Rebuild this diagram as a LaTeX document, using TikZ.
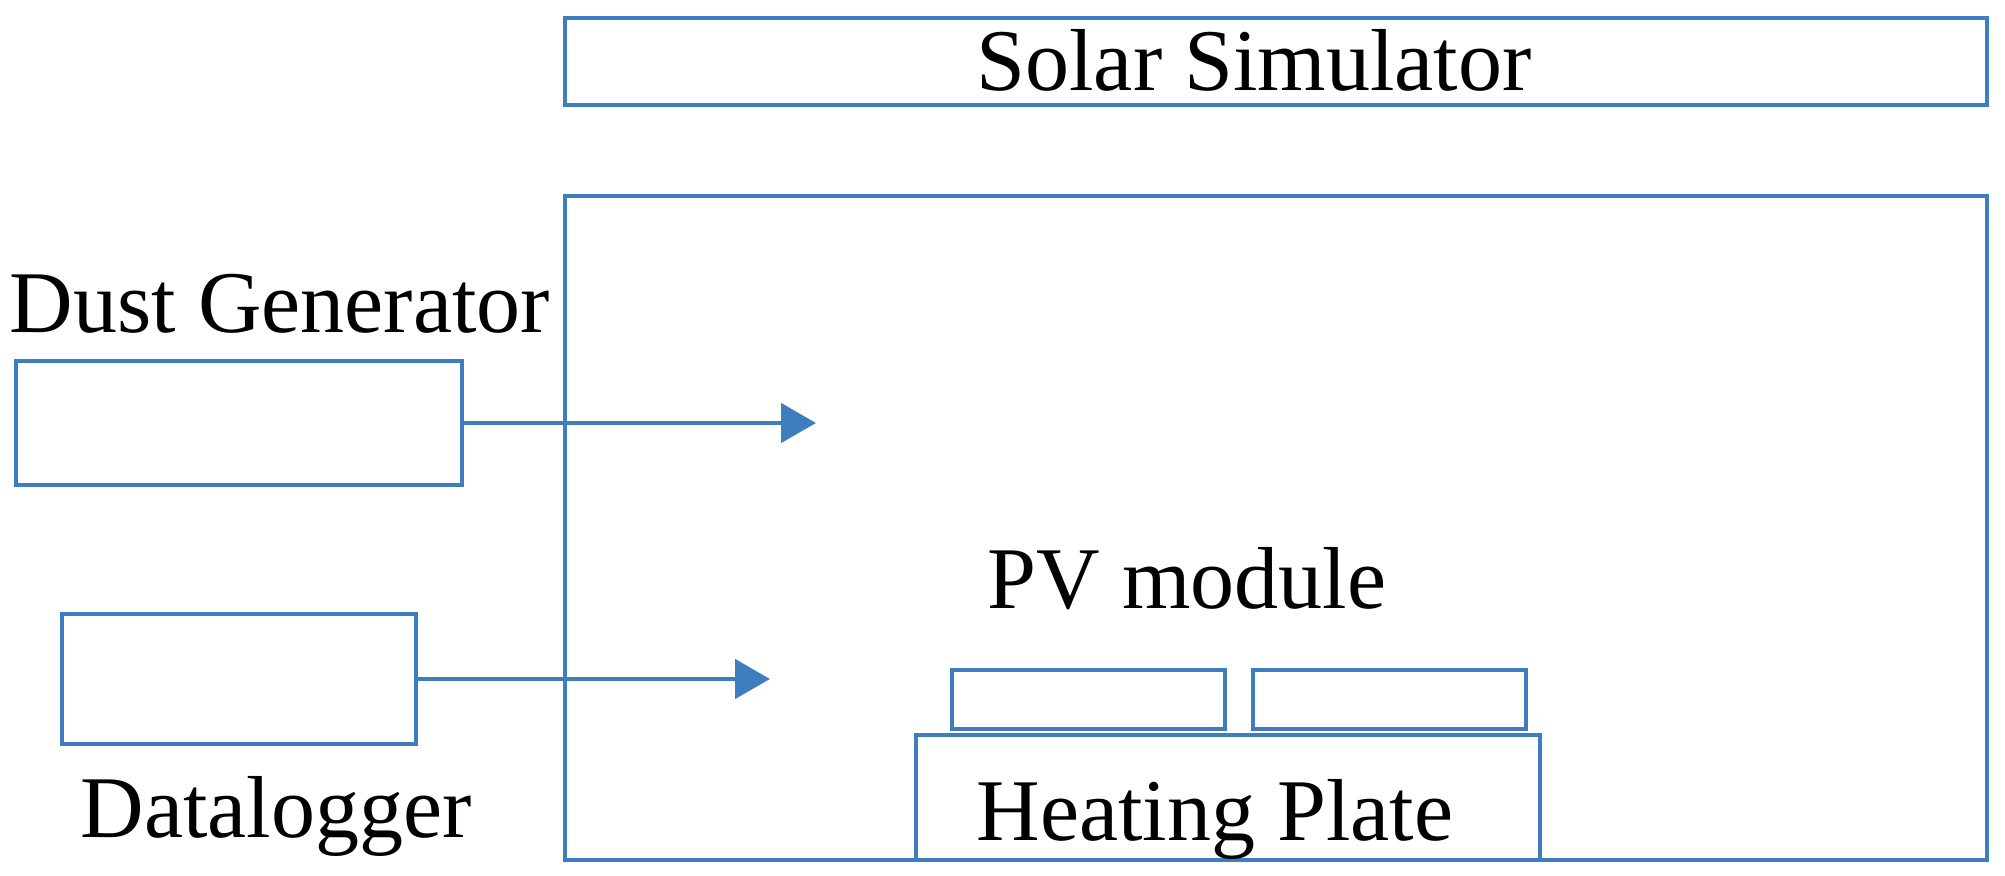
\documentclass[tikz,border=0pt]{standalone}
\usepackage{fontspec}
\setmainfont{Liberation Serif}
\usetikzlibrary{arrows.meta,fit}
\definecolor{lineblue}{RGB}{62,126,190}
\begin{document}
\begin{tikzpicture}[x=0.5pt,y=-0.5pt,
  box/.style={draw=lineblue, line width=2.4pt, inner sep=0pt, rectangle},
  lbl/.style={anchor=base, inner sep=0pt, font=\fontsize{44}{50}\selectfont, text=black},
  feed/.style={draw=lineblue, line width=2.4pt, -{Triangle[length=17.5pt,width=19.5pt]}}]
\useasboundingbox (0,0) rectangle (2005,876);
% boxes
\node[box, fit={(565,18) (1987,105)}] (sol) {};
\node[box, fit={(565,196) (1987,860)}] (chamber) {};
\node[box, fit={(16,361) (462,485)}] (dust) {};
\node[box, fit={(62,614) (416,744)}] (logger) {};
\node[box, fit={(952,670) (1225,729)}] (pv1) {};
\node[box, fit={(1253,670) (1526,729)}] (pv2) {};
\node[box, fit={(916,735) (1540,860)}] (heat) {};
% labels
\node[lbl] (tsol) at (1254,91) {Solar Simulator};
\node[lbl] (tdust) at (280,333) {Dust Generator};
\node[lbl] (tpv) at (1187,608) {PV module};
\node[lbl] (tlog) at (276,837) {Datalogger};
\node[lbl] (theat) at (1215,840) {Heating Plate};
% arrows
\coordinate (a1) at (816,423);
\coordinate (a2) at (770,679);
\draw[feed] (dust.east) -- (a1);
\draw[feed] (logger.east) -- (a2);
\end{tikzpicture}
\end{document}
